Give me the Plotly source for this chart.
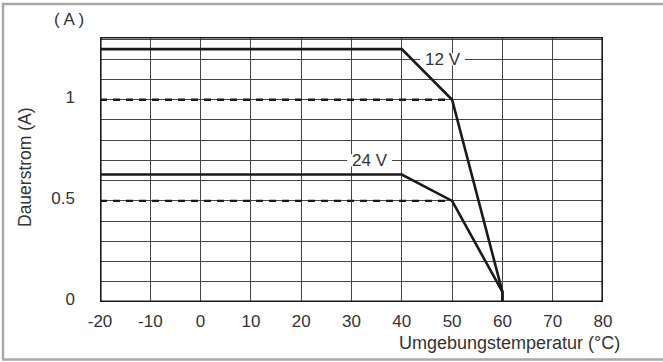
import plotly.graph_objects as go

# ---- data ----
temp_12v = [-20, 40, 50, 60, 60]
current_12v = [1.25, 1.25, 1.0, 0.05, 0.0]
temp_24v = [-20, 40, 50, 60, 60]
current_24v = [0.63, 0.63, 0.5, 0.05, 0.0]
dash_temp = [-20, 50]
dash_12v = [1.0, 1.0]
dash_24v = [0.5, 0.5]
x_ticks = [-20, -10, 0, 10, 20, 30, 40, 50, 60, 70, 80]
x_ticktext = ["-20", "-10", "0", "10", "20", "30", "40", "50", "60", "70", "80"]
y_ticks = [0, 0.5, 1]
y_ticktext = ["0", "0.5", "1"]
label_12v = ("12 V", 48.1, 1.2)
label_24v = ("24 V", 33.6, 0.7)

W, H = 663, 362
L, R, T, B = 100, 60, 37, 60
PW, PH = W - L - R, H - T - B
XMIN, XMAX, YMIN, YMAX = -20, 80, 0, 1.31

FONT = "Liberation Sans"
TXT = "#333333"
LINE = "#1a1a1a"


def px(xp):
    return (xp - L) / PW


def py(yp):
    return (H - B - yp) / PH


fig = go.Figure()
for xs, ys in [(dash_temp, dash_12v), (dash_temp, dash_24v)]:
    fig.add_trace(go.Scatter(x=xs, y=ys, mode="lines",
                             line=dict(color=LINE, width=2.4, dash="7px,6px"),
                             hoverinfo="skip", showlegend=False))
for xs, ys in [(temp_12v, current_12v), (temp_24v, current_24v)]:
    fig.add_trace(go.Scatter(x=xs, y=ys, mode="lines",
                             line=dict(color=LINE, width=2.6),
                             hoverinfo="skip", showlegend=False))

shapes = []
# white patches behind series labels (above grid, below traces)
for (txt, lx, ly), hw in [(label_12v, 4.45), (label_24v, 4.45)]:
    shapes.append(dict(type="rect", xref="x", yref="y", layer="between",
                       x0=lx - hw, x1=lx + hw, y0=ly - 0.03, y1=ly + 0.03,
                       fillcolor="white", line=dict(width=0)))
# plot frame
shapes.append(dict(type="rect", xref="x", yref="y", layer="above",
                   x0=XMIN, x1=XMAX, y0=YMIN, y1=YMAX,
                   line=dict(color=LINE, width=3.2)))
# outer gray border (left, top, bottom)
for x0, y0, x1, y1 in [(3, 3, 3, 360), (2, 4, 665, 4), (2, 359.5, 665, 359.5)]:
    shapes.append(dict(type="line", xref="paper", yref="paper", layer="above",
                       x0=px(x0), y0=py(y0), x1=px(x1), y1=py(y1),
                       line=dict(color="#a9a9a9", width=2.5)))

annotations = []
for txt, lx, ly in [label_12v, label_24v]:
    annotations.append(dict(text=txt, x=lx, y=ly, xref="x", yref="y",
                            showarrow=False, xanchor="center", yanchor="middle",
                            font=dict(family=FONT, size=17, color=TXT)))
annotations.append(dict(text="Umgebungstemperatur (°C)", x=px(622), y=py(343),
                        xref="paper", yref="paper", showarrow=False,
                        xanchor="right", yanchor="middle",
                        font=dict(family=FONT, size=18, color=TXT)))
annotations.append(dict(text="Dauerstrom (A)", x=px(25), y=py(167),
                        xref="paper", yref="paper", showarrow=False,
                        textangle=-90, xanchor="center", yanchor="middle",
                        font=dict(family=FONT, size=17.5, color=TXT)))
annotations.append(dict(text="( A )", x=px(69), y=py(19.5),
                        xref="paper", yref="paper", showarrow=False,
                        xanchor="center", yanchor="middle",
                        font=dict(family=FONT, size=17, color=TXT)))

fig.update_layout(
    width=W, height=H,
    margin=dict(l=L, r=R, t=T, b=B, pad=0),
    paper_bgcolor="white", plot_bgcolor="white",
    showlegend=False,
    shapes=shapes, annotations=annotations,
    font=dict(family=FONT, size=17, color=TXT),
    xaxis=dict(range=[XMIN, XMAX], tickvals=x_ticks, ticktext=x_ticktext,
               showgrid=True, gridcolor="#444444", gridwidth=1,
               zeroline=False, showline=False, ticks="", ticklabelstandoff=7,
               tickfont=dict(family=FONT, size=17, color=TXT),
               fixedrange=True),
    yaxis=dict(range=[YMIN, YMAX], tickvals=y_ticks, ticktext=y_ticktext,
               showgrid=True, gridcolor="#444444", gridwidth=1,
               zeroline=False, showline=False, ticks="",
               ticklabelstandoff=24, ticklabelshift=-3,
               minor=dict(dtick=0.1, tick0=0, showgrid=True,
                          gridcolor="#444444", gridwidth=1, ticks=""),
               tickfont=dict(family=FONT, size=17, color=TXT),
               fixedrange=True),
)

fig.write_html("out.html", config={"displayModeBar": False},
               post_script="document.body.style.margin='0';"
                           "document.body.style.overflow='hidden';")
